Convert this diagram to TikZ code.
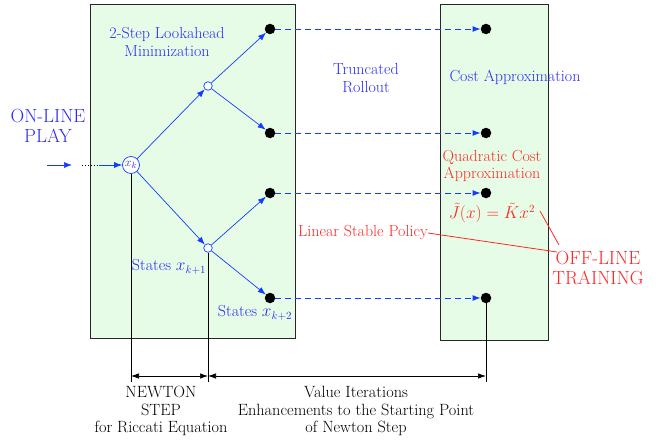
\documentclass[tikz,border=0pt]{standalone}
\usetikzlibrary{arrows.meta}
\definecolor{myblue}{RGB}{20,60,255}
\definecolor{tblue}{RGB}{45,45,245}
\definecolor{myred}{RGB}{255,40,40}
\definecolor{mygreen}{RGB}{230,252,230}
\begin{document}
\begin{tikzpicture}[x=1pt,y=-1pt,
  every node/.style={font=\fontsize{16}{17.5}\selectfont, align=center, inner sep=0pt},
  panel/.style={draw=black!85, line width=0.9pt, fill=mygreen},
  hollow/.style={circle, draw=myblue, fill=white, minimum size=8.5pt, line width=0.7pt},
  dot/.style={circle, fill=black, minimum size=10.5pt},
  tedge/.style={myblue, line width=0.7pt, -{Latex[length=8pt,width=6pt]}},
  dedge/.style={myblue, line width=0.9pt, dash pattern=on 6pt off 4pt, -{Latex[length=8pt,width=6pt]}},
  bluetxt/.style={text=tblue},
  redtxt/.style={text=myred},
  bigtxt/.style={font=\fontsize{19}{20.5}\selectfont},
  bottxt/.style={font=\fontsize{16.3}{17.5}\selectfont},
  dim/.style={black, line width=0.7pt, {Latex[length=8pt,width=5.5pt]}-{Latex[length=8pt,width=5.5pt]}}
]
\useasboundingbox (0,0) rectangle (667,444);
% panels
\draw[panel] (90,4) rectangle (295,338);
\draw[panel] (440,4) rectangle (548,340);
% tree nodes
\node[hollow, minimum size=17pt, font=\fontsize{13}{15}\selectfont, text=tblue] (xk) at (131,165) {$x_k$};
\node[hollow] (u) at (208,86) {};
\node[hollow] (l) at (208,248) {};
\node[dot] (a1) at (270,29) {};
\node[dot] (a2) at (270,133) {};
\node[dot] (a3) at (270,193) {};
\node[dot] (a4) at (270,298) {};
\node[dot] (b1) at (486,29) {};
\node[dot] (b2) at (486,133) {};
\node[dot] (b3) at (486,193) {};
\node[dot] (b4) at (486,298) {};
% input
\coordinate (i0) at (47,165);
\coordinate (i1) at (72,165);
\coordinate (i2) at (82,165);
\coordinate (i3) at (99,165);
\draw[tedge] (i0) -- (i1);
\draw[black, line width=0.9pt, dotted] (i2) -- (i3);
\draw[tedge] (i3) -- (xk);
% tree edges
\draw[tedge] (xk) -- (u);
\draw[tedge] (xk) -- (l);
\draw[tedge] (u) -- (a1);
\draw[tedge] (u) -- (a2);
\draw[tedge] (l) -- (a3);
\draw[tedge] (l) -- (a4);
% dashed
\draw[dedge] (a1) -- (b1);
\draw[dedge] (a2) -- (b2);
\draw[dedge] (a3) -- (b3);
\draw[dedge] (a4) -- (b4);
% vertical lines and dimension arrows
\coordinate (v1) at (131,382);
\coordinate (v2) at (208,382);
\coordinate (v3) at (486,382);
\coordinate (d1) at (131,376);
\coordinate (d2) at (208,376);
\coordinate (d3) at (486,376);
\draw[black, line width=0.7pt] (xk) -- (v1);
\draw[black, line width=0.7pt] (l) -- (v2);
\draw[black, line width=0.7pt] (b4) -- (v3);
\draw[dim] (d1) -- (d2);
\draw[dim] (d2) -- (d3);
% texts
\node[bluetxt, bigtxt] (online) at (48,126) {ON-LINE\\PLAY};
\node[bluetxt] (look) at (167,42) {2-Step Lookahead\\Minimization};
\node[bluetxt] (roll) at (366,78) {Truncated\\Rollout};
\node[bluetxt] (cost) at (515,77) {Cost Approximation};
\node[redtxt] (quad) at (492,166) {Quadratic Cost\\Approximation};
\node[redtxt] (jt) at (492,213) {$\tilde J(x)=\tilde K x^2$};
\node[redtxt, anchor=east] (lsp) at (428,233) {Linear Stable Policy};
\node[redtxt, bigtxt] (off) at (598,268) {OFF-LINE\\TRAINING};
\node[bluetxt] (s1) at (169,267) {States $x_{k+1}$};
\node[bluetxt] (s2) at (255,313) {States $x_{k+2}$};
\node[bottxt] (newton) at (161,411) {NEWTON\\STEP\\for Riccati Equation};
\node[bottxt] (vi) at (356,411) {Value Iterations\\Enhancements to the Starting Point\\of Newton Step};
% red connectors
\coordinate (r1) at (540,211);
\coordinate (r2) at (559,245);
\coordinate (r3) at (557,252);
\draw[myred, line width=0.8pt] (lsp.east) -- (r3);
\draw[myred, line width=0.8pt] (r1) -- (r2);
\end{tikzpicture}
\end{document}
